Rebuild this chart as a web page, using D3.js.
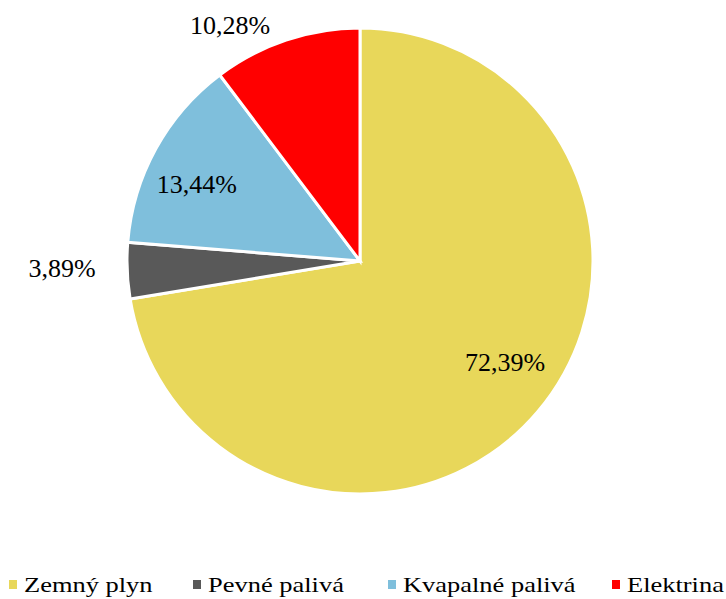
<!DOCTYPE html>
<html>
<head>
<meta charset="utf-8">
<script src="https://cdn.jsdelivr.net/npm/d3@7"></script>
<style>
  body { margin: 0; background: #fff; }
</style>
</head>
<body>
<div id="chart"></div>
<script>
const width = 726;
const height = 599;

// data
const categories = ["Zemný plyn", "Pevné palivá", "Kvapalné palivá", "Elektrina"];
const values = [72.39, 3.89, 13.44, 10.28];
const labels = ["72,39%", "3,89%", "13,44%", "10,28%"];
const colors = ["#E8D75A", "#595959", "#7FBFDC", "#FF0000"];

const cx = 360, cy = 261, r = 233;
const serif = "'Liberation Serif', 'Times New Roman', Times, serif";

const svg = d3.select("#chart")
  .append("svg")
  .attr("width", width)
  .attr("height", height)
  .attr("font-family", serif)
  .style("font-family", serif);

const pie = d3.pie().sort(null).value(d => d.value);
const arc = d3.arc().innerRadius(0).outerRadius(r);

const data = categories.map((c, i) => ({ name: c, value: values[i], label: labels[i], color: colors[i] }));
const arcs = pie(data);

const g = svg.append("g").attr("transform", `translate(${cx},${cy})`);

g.selectAll("path")
  .data(arcs)
  .enter()
  .append("path")
  .attr("d", arc)
  .attr("fill", d => d.data.color)
  .attr("stroke", "#fff")
  .attr("stroke-width", 3);

// label placement: radius factor + small nudge
const labelR = [0.76, 1.28, 0.78, 1.15];
const nudge = [[10, -14], [0, -6], [-4, 10], [-45, 18]];
const labelArc = i => d3.arc().innerRadius(r * labelR[i]).outerRadius(r * labelR[i]);

g.selectAll("text.lbl")
  .data(arcs)
  .enter()
  .append("text")
  .attr("class", "lbl")
  .attr("transform", (d, i) => {
    const [x, y] = labelArc(i).centroid(d);
    return `translate(${x + nudge[i][0]},${y + nudge[i][1]})`;
  })
  .attr("text-anchor", "middle")
  .attr("dy", "0.35em")
  .attr("font-size", 26)
  .attr("fill", "#000")
  .text(d => d.data.label);

// legend
const legendX = [9, 193, 388, 612];
const legend = svg.append("g").attr("transform", "translate(0,585)");
const item = legend.selectAll("g")
  .data(data)
  .enter()
  .append("g")
  .attr("transform", (d, i) => `translate(${legendX[i]},0)`);

item.append("rect")
  .attr("x", 0)
  .attr("y", -5)
  .attr("width", 8)
  .attr("height", 9)
  .attr("fill", d => d.color);

item.append("text")
  .attr("transform", "translate(15,7) scale(1.26,1)")
  .attr("font-size", 21)
  .attr("fill", "#000")
  .text(d => d.name);
</script>
</body>
</html>
